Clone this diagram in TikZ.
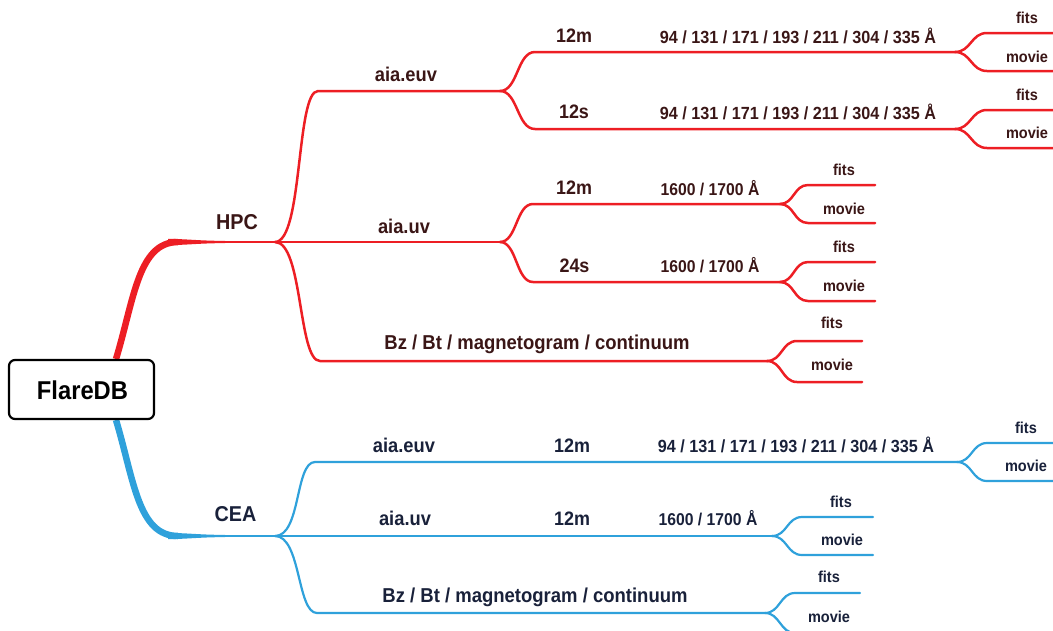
\documentclass[tikz,border=0pt]{standalone}
\usepackage{fontspec}
\setmainfont{Liberation Sans}[FakeStretch=0.92]
\newcommand{\fsz}[1]{\fontsize{#1}{#1}\selectfont}
\definecolor{hred}{RGB}{237,30,36}
\definecolor{cblue}{RGB}{47,161,219}
\definecolor{rtext}{RGB}{58,22,22}
\definecolor{btext}{RGB}{25,33,58}
\begin{document}
\begin{tikzpicture}[x=1pt,y=-1pt,
  lbl/.style={anchor=base,inner sep=0pt,font=\bfseries\fsz{#1}},
  rl/.style={lbl=#1,text=rtext},
  bl/.style={lbl=#1,text=btext},
  rline/.style={draw=hred,line width=2.5pt,line cap=round},
  bline/.style={draw=cblue,line width=2.2pt,line cap=round},
  rootbox/.style={draw=black,line width=2.2pt,rounded corners=6pt,fill=white,
    minimum width=145pt,minimum height=59pt,inner sep=0pt,font=\bfseries\fsz{25.8}}]
\useasboundingbox (0,0) rectangle (1053,630);
\clip (0,0) rectangle (1053,630);

% ---------- coordinates ----------
\coordinate (rtop) at (116,359);
\coordinate (rbot) at (116,420);
% red
\coordinate (hpcS) at (178,242);
\coordinate (hpcJ) at (275,242);
\coordinate (euvS) at (318,91);
\coordinate (euvJ) at (500,91);
\coordinate (e12mS) at (535,52);
\coordinate (e12mJ) at (955,52);
\coordinate (e12mF) at (987,33);  \coordinate (e12mFE) at (1053,33);
\coordinate (e12mM) at (987,71);  \coordinate (e12mME) at (1053,71);
\coordinate (e12sS) at (535,129);
\coordinate (e12sJ) at (955,129);
\coordinate (e12sF) at (987,110); \coordinate (e12sFE) at (1053,110);
\coordinate (e12sM) at (987,148); \coordinate (e12sME) at (1053,148);
\coordinate (uvJ) at (500,242);
\coordinate (u12mS) at (533,204);
\coordinate (u12mJ) at (780,204);
\coordinate (u12mF) at (808,185); \coordinate (u12mFE) at (875,185);
\coordinate (u12mM) at (808,223); \coordinate (u12mME) at (875,223);
\coordinate (u24sS) at (533,282);
\coordinate (u24sJ) at (780,282);
\coordinate (u24sF) at (808,262); \coordinate (u24sFE) at (875,262);
\coordinate (u24sM) at (808,301); \coordinate (u24sME) at (875,301);
\coordinate (bzS) at (320,361);
\coordinate (bzJ) at (767,361);
\coordinate (bzF) at (797,341); \coordinate (bzFE) at (862,341);
\coordinate (bzM) at (797,382); \coordinate (bzME) at (862,382);
% blue
\coordinate (ceaS) at (178,536);
\coordinate (ceaJ) at (275,536);
\coordinate (ceuvS) at (315,462);
\coordinate (ceuvJ) at (957,462);
\coordinate (ceuvF) at (987,443); \coordinate (ceuvFE) at (1053,443);
\coordinate (ceuvM) at (987,481); \coordinate (ceuvME) at (1053,481);
\coordinate (cuvJ) at (772,536);
\coordinate (cuvF) at (802,517); \coordinate (cuvFE) at (873,517);
\coordinate (cuvM) at (802,555); \coordinate (cuvME) at (873,555);
\coordinate (cbzS) at (317,613);
\coordinate (cbzJ) at (765,613);
\coordinate (cbzF) at (795,593); \coordinate (cbzFE) at (860,593);
\coordinate (cbzM) at (795,633); \coordinate (cbzME) at (860,633);

% ---------- trunks (tapered) ----------
\draw[hred,line width=6.5pt] (rtop) .. controls (134,300) and (138,242) .. (hpcS);
\fill[hred] (168,238.8) .. controls (190,239.2) and (200,240.8) .. (225,240.9)
  -- (225,243.1) .. controls (200,243.2) and (190,244.8) .. (168,245.2) -- cycle;
\draw[cblue,line width=6.5pt] (rbot) .. controls (134,480) and (138,536) .. (ceaS);
\fill[cblue] (168,532.8) .. controls (190,533.2) and (200,534.8) .. (225,534.9)
  -- (225,537.1) .. controls (200,537.2) and (190,538.8) .. (168,539.2) -- cycle;
\draw[rline] (hpcS) -- (hpcJ);
\draw[bline] (ceaS) -- (ceaJ);

% ---------- red branches ----------
\draw[rline] (hpcJ) .. controls +(28,0) and +(-22,0) .. (euvS) -- (euvJ);
\draw[rline] (euvJ) .. controls +(18,0) and +(-18,0) .. (e12mS) -- (e12mJ);
\draw[rline] (euvJ) .. controls +(18,0) and +(-18,0) .. (e12sS) -- (e12sJ);
\draw[rline] (e12mJ) .. controls +(16,0) and +(-16,0) .. (e12mF) -- (e12mFE);
\draw[rline] (e12mJ) .. controls +(16,0) and +(-16,0) .. (e12mM) -- (e12mME);
\draw[rline] (e12sJ) .. controls +(16,0) and +(-16,0) .. (e12sF) -- (e12sFE);
\draw[rline] (e12sJ) .. controls +(16,0) and +(-16,0) .. (e12sM) -- (e12sME);
\draw[rline] (hpcJ) -- (uvJ);
\draw[rline] (uvJ) .. controls +(17,0) and +(-17,0) .. (u12mS) -- (u12mJ);
\draw[rline] (uvJ) .. controls +(17,0) and +(-17,0) .. (u24sS) -- (u24sJ);
\draw[rline] (u12mJ) .. controls +(14,0) and +(-14,0) .. (u12mF) -- (u12mFE);
\draw[rline] (u12mJ) .. controls +(14,0) and +(-14,0) .. (u12mM) -- (u12mME);
\draw[rline] (u24sJ) .. controls +(14,0) and +(-14,0) .. (u24sF) -- (u24sFE);
\draw[rline] (u24sJ) .. controls +(14,0) and +(-14,0) .. (u24sM) -- (u24sME);
\draw[rline] (hpcJ) .. controls +(28,0) and +(-22,0) .. (bzS) -- (bzJ);
\draw[rline] (bzJ) .. controls +(15,0) and +(-15,0) .. (bzF) -- (bzFE);
\draw[rline] (bzJ) .. controls +(15,0) and +(-15,0) .. (bzM) -- (bzME);

% ---------- blue branches ----------
\draw[bline] (ceaJ) .. controls +(26,0) and +(-20,0) .. (ceuvS) -- (ceuvJ);
\draw[bline] (ceuvJ) .. controls +(15,0) and +(-15,0) .. (ceuvF) -- (ceuvFE);
\draw[bline] (ceuvJ) .. controls +(15,0) and +(-15,0) .. (ceuvM) -- (ceuvME);
\draw[bline] (ceaJ) -- (cuvJ);
\draw[bline] (cuvJ) .. controls +(15,0) and +(-15,0) .. (cuvF) -- (cuvFE);
\draw[bline] (cuvJ) .. controls +(15,0) and +(-15,0) .. (cuvM) -- (cuvME);
\draw[bline] (ceaJ) .. controls +(26,0) and +(-20,0) .. (cbzS) -- (cbzJ);
\draw[bline] (cbzJ) .. controls +(15,0) and +(-15,0) .. (cbzF) -- (cbzFE);
\draw[bline] (cbzJ) .. controls +(15,0) and +(-15,0) .. (cbzM) -- (cbzME);

% ---------- root ----------
\node[rootbox] (root) at (81.5,389.5) {};
\node[lbl=25.8,text=black] (rootlbl) at (82.5,399) {FlareDB};

% ---------- red labels ----------
\node[rl=21.5] (hpc) at (237,229) {HPC};
\node[rl=19.9] (euv) at (406,81) {aia.euv};
\node[rl=19.5] (e12m) at (574,42) {12m};
\node[rl=17.6] (e12mw) at (798,43) {94 / 131 / 171 / 193 / 211 / 304 / 335 Å};
\node[rl=15.8] (e12mf) at (1027,23) {fits};
\node[rl=15.8] (e12mm) at (1027,62) {movie};
\node[rl=19.5] (e12s) at (574,118) {12s};
\node[rl=17.6] (e12sw) at (798,119) {94 / 131 / 171 / 193 / 211 / 304 / 335 Å};
\node[rl=15.8] (e12sf) at (1027,100) {fits};
\node[rl=15.8] (e12sm) at (1027,138) {movie};
\node[rl=19.9] (uv) at (404,233) {aia.uv};
\node[rl=19.5] (u12m) at (574,194) {12m};
\node[rl=17.1] (u12mw) at (710,195) {1600 / 1700 Å};
\node[rl=15.8] (u12mf) at (844,175) {fits};
\node[rl=15.8] (u12mm) at (844,214) {movie};
\node[rl=19.5] (u24s) at (574.5,272) {24s};
\node[rl=17.1] (u24sw) at (710,272) {1600 / 1700 Å};
\node[rl=15.8] (u24sf) at (844,252) {fits};
\node[rl=15.8] (u24sm) at (844,291) {movie};
\node[rl=20.1] (bz) at (537,349) {Bz / Bt / magnetogram / continuum};
\node[rl=15.8] (bzf) at (832,328) {fits};
\node[rl=15.8] (bzm) at (832,370) {movie};

% ---------- blue labels ----------
\node[bl=21.5] (cea) at (235.5,521) {CEA};
\node[bl=19.9] (ceuv) at (404,452) {aia.euv};
\node[bl=19.5] (ce12m) at (572,452) {12m};
\node[bl=17.6] (cewl) at (796,452) {94 / 131 / 171 / 193 / 211 / 304 / 335 Å};
\node[bl=15.8] (cef) at (1026,433) {fits};
\node[bl=15.8] (cem) at (1026,471) {movie};
\node[bl=19.9] (cuv) at (405,525) {aia.uv};
\node[bl=19.5] (cu12m) at (572,525) {12m};
\node[bl=17.1] (cuwl) at (708,525) {1600 / 1700 Å};
\node[bl=15.8] (cuf) at (841,507) {fits};
\node[bl=15.8] (cum) at (842,545) {movie};
\node[bl=20.1] (cbz) at (535,602) {Bz / Bt / magnetogram / continuum};
\node[bl=15.8] (cbzf) at (829,582) {fits};
\node[bl=15.8] (cbzm) at (829,622) {movie};
\end{tikzpicture}
\end{document}
